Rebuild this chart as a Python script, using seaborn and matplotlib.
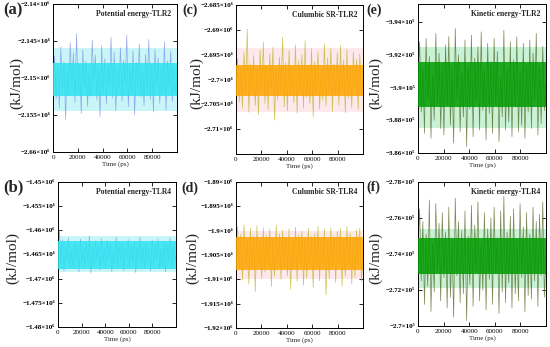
import numpy as np
import pandas as pd
import matplotlib
matplotlib.use("Agg")
import matplotlib.pyplot as plt
import seaborn as sns

# ---------------- data (energies) ----------------
# (a) potential energy TLR2, units of 1e6 kJ/mol
pot_tlr2 = [-2.1496, -2.1470, -2.1528, -2.1486, -2.1541, -2.1458, -2.1515, -2.1478, -2.1556, -2.1489,
            -2.1522, -2.1452, -2.1510, -2.1466, -2.1533, -2.1440, -2.1519, -2.1484, -2.1548, -2.1462,
            -2.1512, -2.1477, -2.1538, -2.1491, -2.1525, -2.1449, -2.1508, -2.1469, -2.1530, -2.1487,
            -2.1552, -2.1456, -2.1517, -2.1474, -2.1535, -2.1482, -2.1511, -2.1445, -2.1527, -2.1465,
            -2.1544, -2.1488, -2.1514, -2.1459, -2.1531, -2.1476, -2.1509, -2.1442, -2.1539, -2.1485,
            -2.1521, -2.1463, -2.1550, -2.1479, -2.1513, -2.1454, -2.1526, -2.1490, -2.1537, -2.1468,
            -2.1516, -2.1448, -2.1529, -2.1481, -2.1546, -2.1461, -2.1510, -2.1473, -2.1534, -2.1486,
            -2.1520, -2.1451, -2.1543, -2.1477, -2.1512, -2.1464, -2.1532, -2.1483, -2.1518, -2.1497]
# (b) potential energy TLR4, units of 1e6 kJ/mol
pot_tlr4 = [-1.4640, -1.4601, -1.4668, -1.4620, -1.4684, -1.4636, -1.4662, -1.4616, -1.4679, -1.4641,
            -1.4674, -1.4624, -1.4660, -1.4630, -1.4686, -1.4618, -1.4665, -1.4639, -1.4677, -1.4626,
            -1.4663, -1.4612, -1.4688, -1.4635, -1.4671, -1.4622, -1.4659, -1.4633, -1.4682, -1.4617,
            -1.4666, -1.4637, -1.4675, -1.4621, -1.4661, -1.4629, -1.4685, -1.4640, -1.4669, -1.4614,
            -1.4678, -1.4632, -1.4664, -1.4625, -1.4683, -1.4638, -1.4660, -1.4619, -1.4676, -1.4634,
            -1.4667, -1.4623, -1.4687, -1.4636, -1.4662, -1.4615, -1.4673, -1.4631, -1.4680, -1.4627,
            -1.4665, -1.4639, -1.4684, -1.4620, -1.4670, -1.4633, -1.4661, -1.4618, -1.4679, -1.4637,
            -1.4672, -1.4624, -1.4686, -1.4630, -1.4663, -1.4616, -1.4677, -1.4635, -1.4669, -1.4650]
# (c) Coulomb SR TLR2, units of 1e6 kJ/mol
coul_tlr2 = [-2.6990, -2.6958, -2.7045, -2.6975, -2.7058, -2.6945, -2.7025, -2.6898, -2.7066, -2.6968,
             -2.7030, -2.6952, -2.7052, -2.6980, -2.7071, -2.6940, -2.7028, -2.6925, -2.7048, -2.6972,
             -2.7060, -2.6948, -2.7022, -2.6935, -2.7082, -2.6978, -2.7040, -2.6955, -2.7026, -2.6915,
             -2.7055, -2.6966, -2.7063, -2.6942, -2.7031, -2.6976, -2.7047, -2.6930, -2.7068, -2.6962,
             -2.7024, -2.6950, -2.7057, -2.6922, -2.7036, -2.6971, -2.7050, -2.6938, -2.7075, -2.6965,
             -2.7029, -2.6944, -2.7059, -2.6979, -2.7042, -2.6928, -2.7053, -2.6957, -2.7027, -2.6936,
             -2.7064, -2.6969, -2.7033, -2.6946, -2.7051, -2.6932, -2.7023, -2.6961, -2.7067, -2.6940,
             -2.7038, -2.6974, -2.7056, -2.6944, -2.7021, -2.6959, -2.7061, -2.6949, -2.7032, -2.7000]
# (d) Coulomb SR TLR4, units of 1e6 kJ/mol
coul_tlr4 = [-1.9030, -1.8992, -1.9076, -1.9008, -1.9102, -1.8988, -1.9070, -1.9018, -1.9110, -1.8995,
             -1.9079, -1.9011, -1.9125, -1.8990, -1.9072, -1.9020, -1.9098, -1.8994, -1.9085, -1.9010,
             -1.9074, -1.8997, -1.9115, -1.9016, -1.9094, -1.8989, -1.9068, -1.9007, -1.9100, -1.8999,
             -1.9077, -1.9014, -1.9093, -1.8996, -1.9120, -1.9019, -1.9073, -1.8993, -1.9104, -1.9009,
             -1.9071, -1.9001, -1.9112, -1.9017, -1.9097, -1.8995, -1.9075, -1.9012, -1.9117, -1.9005,
             -1.9080, -1.8991, -1.9103, -1.9015, -1.9069, -1.8997, -1.9132, -1.9021, -1.9099, -1.8994,
             -1.9078, -1.9010, -1.9107, -1.9002, -1.9070, -1.8996, -1.9114, -1.9018, -1.9094, -1.8992,
             -1.9076, -1.9005, -1.9109, -1.9013, -1.9096, -1.8998, -1.9072, -1.8995, -1.9105, -1.9045]
# (e) kinetic energy TLR2, units of 1e5 kJ/mol
kin_tlr2 = [3.905, 3.928, 3.885, 3.912, 3.872, 3.930, 3.892, 3.919, 3.869, 3.908,
            3.880, 3.933, 3.890, 3.921, 3.875, 3.914, 3.871, 3.926, 3.889, 3.931,
            3.877, 3.910, 3.866, 3.936, 3.893, 3.920, 3.873, 3.909, 3.882, 3.929,
            3.864, 3.913, 3.887, 3.932, 3.870, 3.918, 3.891, 3.925, 3.874, 3.934,
            3.886, 3.911, 3.868, 3.927, 3.884, 3.916, 3.872, 3.930, 3.890, 3.922,
            3.867, 3.907, 3.882, 3.935, 3.874, 3.912, 3.879, 3.928, 3.870, 3.917,
            3.888, 3.931, 3.873, 3.910, 3.877, 3.927, 3.869, 3.914, 3.885, 3.929,
            3.875, 3.921, 3.892, 3.933, 3.871, 3.913, 3.878, 3.925, 3.886, 3.902]
# (f) kinetic energy TLR4, units of 1e5 kJ/mol
kin_tlr4 = [2.742, 2.765, 2.725, 2.758, 2.712, 2.751, 2.722, 2.770, 2.708, 2.746,
            2.719, 2.768, 2.731, 2.757, 2.714, 2.763, 2.727, 2.752, 2.710, 2.766,
            2.716, 2.748, 2.705, 2.771, 2.728, 2.758, 2.713, 2.753, 2.718, 2.764,
            2.703, 2.750, 2.723, 2.767, 2.711, 2.756, 2.730, 2.769, 2.714, 2.747,
            2.720, 2.763, 2.709, 2.754, 2.726, 2.760, 2.712, 2.766, 2.729, 2.749,
            2.707, 2.764, 2.719, 2.772, 2.713, 2.752, 2.724, 2.761, 2.710, 2.765,
            2.718, 2.748, 2.714, 2.768, 2.727, 2.755, 2.708, 2.763, 2.717, 2.751,
            2.715, 2.766, 2.725, 2.758, 2.711, 2.762, 2.728, 2.769, 2.716, 2.740]

# dense core of each trace (lo, hi) and lighter halo (lo, hi)
core_bands = {"a": (-2.1524, -2.1480), "b": (-1.4680, -1.4622), "c": (-2.7034, -2.6970),
              "d": (-1.9081, -1.9013), "e": (3.888, 3.9154), "f": (2.729, 2.749)}
halo_bands = {"a": (-2.1545, -2.1459), "b": (-1.4686, -1.4612), "c": (-2.7066, -2.6936),
              "d": (-1.9100, -1.9000), "e": (3.8754, 3.9246), "f": (2.721, 2.754)}

titles = {"a": "Potential energy-TLR2", "b": "Potential energy-TLR4",
          "c": "Culumbic SR-TLR2", "d": "Culumbic SR-TLR4",
          "e": "Kinetic energy-TLR2", "f": "Kinetic energy-TLR4"}

ytick_vals = {"a": [-2.16, -2.155, -2.15, -2.145, -2.14],
              "b": [-1.48, -1.475, -1.47, -1.465, -1.46, -1.455, -1.45],
              "c": [-2.71, -2.705, -2.70, -2.695, -2.69, -2.685],
              "d": [-1.92, -1.915, -1.91, -1.905, -1.90, -1.895, -1.89],
              "e": [3.86, 3.88, 3.90, 3.92, 3.94],
              "f": [2.70, 2.72, 2.74, 2.76, 2.78]}
ytick_labels = {"a": ["−2.66×10⁶", "−2.155×10⁶", "−2.15×10⁶", "−2.145×10⁶", "−2.14×10⁶"],
                "b": ["−1.48×10⁶", "−1.475×10⁶", "−1.47×10⁶", "−1.465×10⁶", "−1.46×10⁶", "−1.455×10⁶", "−1.45×10⁶"],
                "c": ["−2.71×10⁶", "−2.705×10⁶", "−2.7×10⁶", "−2.695×10⁶", "−2.69×10⁶", "−2.685×10⁶"],
                "d": ["−1.92×10⁶", "−1.915×10⁶", "−1.91×10⁶", "−1.905×10⁶", "−1.9×10⁶", "−1.895×10⁶", "−1.89×10⁶"],
                "e": ["−3.86×10⁵", "−3.88×10⁵", "−3.9×10⁵", "−3.92×10⁵", "−3.94×10⁵"],
                "f": ["−2.7×10⁵", "−2.72×10⁵", "−2.74×10⁵", "−2.76×10⁵", "−2.78×10⁵"]}
ylims = {"a": (-2.16, -2.14), "b": (-1.48, -1.45), "c": (-2.715, -2.685),
         "d": (-1.92, -1.89), "e": (3.86, 3.951), "f": (2.70, 2.78)}

xtick_vals = [0, 20000, 40000, 60000, 80000]
xtick_labels = ["0", "20000", "40000", "60000", "80000"]
t_end = 100000

series = {"a": pot_tlr2, "b": pot_tlr4, "c": coul_tlr2, "d": coul_tlr4, "e": kin_tlr2, "f": kin_tlr4}

# ---------------- styling ----------------
sns.set_theme(style="white")
plt.rcParams["font.family"] = ["Liberation Serif", "DejaVu Serif"]
plt.rcParams["axes.unicode_minus"] = True

colors = {  # halo, core, spikes
    "a": ("#c8f6f8", "#2ee4f0", "#8494e6"),
    "b": ("#c8f6f8", "#2ee4f0", "#8494e6"),
    "c": ("#fde8ec", "#ffa500", "#c2b52a"),
    "d": ("#fde8ec", "#ffa500", "#c2b52a"),
    "e": ("#c8f2d6", "#009c00", "#5a6a2a"),
    "f": ("#c8f2d6", "#009c00", "#5a6a2a"),
}

W, H = 550, 347
fig = plt.figure(figsize=(5.5, 3.47), dpi=100)


def box(l, t, r, b):
    return [l / W, 1 - b / H, (r - l) / W, (b - t) / H]


boxes = {"a": (53, 4, 177, 152), "c": (236, 5, 363, 154), "e": (418, 4, 546, 153),
         "b": (58, 182, 176, 327), "d": (236, 182, 363, 328), "f": (418, 182, 546, 326)}
letter_pos = {"a": (3, 10, 12), "c": (182, 10, 10), "e": (366, 10, 10),
              "b": (3, 187, 12), "d": (181, 188, 10), "f": (366, 187, 10)}
ylabel_pos = {"a": (17, 83), "c": (197, 83), "e": (376, 83),
              "b": (13, 258), "d": (193, 258), "f": (376, 258)}

for key in ["a", "b", "c", "d", "e", "f"]:
    vals = series[key]
    ax = fig.add_axes(box(*boxes[key]))
    t = np.linspace(0, t_end, len(vals))
    df = pd.DataFrame({"Time (ps)": t, "Energy": vals})
    halo_c, core_c, spike_c = colors[key]
    hlo, hhi = halo_bands[key]
    clo, chi = core_bands[key]
    ax.fill_between([0, t_end], [hlo, hlo], [hhi, hhi], color=halo_c, lw=0, zorder=1)
    sns.lineplot(data=df, x="Time (ps)", y="Energy", ax=ax, color=spike_c, lw=0.5,
                 alpha=0.8, zorder=2)
    ax.fill_between([0, t_end], [clo, clo], [chi, chi], color=core_c, lw=0,
                    alpha=0.85, zorder=3)
    ax.set_xlim(0, t_end)
    ax.set_ylim(*ylims[key])
    ax.set_xticks(xtick_vals)
    ax.set_xticklabels(xtick_labels, fontsize=5)
    ax.set_yticks(ytick_vals[key])
    ax.set_yticklabels(ytick_labels[key], fontsize=5, fontweight="bold")
    ax.tick_params(direction="in", length=3, width=0.6, top=True, right=True,
                   bottom=True, left=True, pad=2, colors="black")
    for s in ax.spines.values():
        s.set_color("black")
        s.set_linewidth(0.7)
    ax.set_xlabel("Time (ps)", fontsize=5, labelpad=1)
    ax.set_ylabel("")
    ax.text(0.955, 0.93, titles[key], transform=ax.transAxes, ha="right", va="center",
            fontsize=5.5, fontweight="bold", zorder=6)
    lx, ly, lsz = letter_pos[key]
    fig.text(lx / W, 1 - ly / H, f"({key})", fontsize=lsz, fontweight="bold",
             ha="left", va="center")
    yx, yy = ylabel_pos[key]
    fig.text(yx / W, 1 - yy / H, "(kJ/mol)", fontsize=11, rotation=90,
             ha="center", va="center")

fig.savefig("out.png", dpi=100)
